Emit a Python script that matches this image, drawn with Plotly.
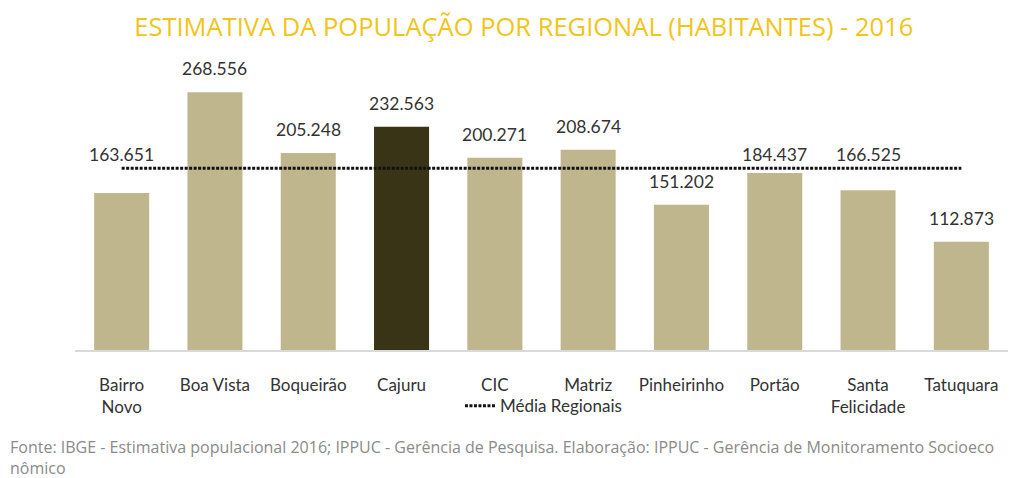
import plotly.graph_objects as go

categories = ["Bairro<br>Novo", "Boa Vista", "Boqueirão", "Cajuru", "CIC", "Matriz",
              "Pinheirinho", "Portão", "Santa<br>Felicidade", "Tatuquara"]
values = [163651, 268556, 205248, 232563, 200271, 208674, 151202, 184437, 166525, 112873]
labels = ["163.651", "268.556", "205.248", "232.563", "200.271", "208.674",
          "151.202", "184.437", "166.525", "112.873"]
highlight = "Cajuru"

mean_val = sum(values) / len(values)

TAN = "#c0b68e"
DARK = "#3a3416"
colors = [DARK if c == highlight else TAN for c in categories]

fig = go.Figure()
fig.add_trace(go.Bar(
    x=categories, y=values, marker=dict(color=colors, line=dict(width=0)),
    width=0.59, showlegend=False, hoverinfo="skip"))
fig.add_trace(go.Scatter(
    x=categories, y=[mean_val] * len(categories), mode="lines",
    line=dict(color="#111111", width=3, dash="3px,1.5px"),
    name="Média Regionais", showlegend=True))

annotations = []
for c, v, t in zip(categories, values, labels):
    if v < mean_val and mean_val - v < 30000:
        y, ys = mean_val, 1
    else:
        y, ys = v, 11
    annotations.append(dict(x=c, y=y, text=t, showarrow=False, yanchor="bottom",
                            yshift=ys, font=dict(family="Lato, Open Sans", size=17.5, color="#333333")))

annotations.append(dict(
    xref="paper", yref="paper", x=-0.0718, y=-0.292, xanchor="left", yanchor="top", align="left",
    showarrow=False,
    text=("Fonte: IBGE - Estimativa populacional 2016; IPPUC - Gerência de Pesquisa. "
          "Elaboração: IPPUC - Gerência de Monitoramento Socioeco<br>nômico"),
    font=dict(family="Open Sans", size=16, color="#8a8a8a")))

fig.update_layout(
    width=1021, height=470,
    paper_bgcolor="white", plot_bgcolor="white",
    margin=dict(l=67, r=21, t=54, b=128),
    title=dict(text="ESTIMATIVA DA POPULAÇÃO POR REGIONAL (HABITANTES) - 2016",
               x=0.481, xref="paper", xanchor="center", y=0.9596, yanchor="middle",
               font=dict(family="Open Sans", size=25.5, color="#f2c419")),
    bargap=0.41,
    xaxis=dict(showline=True, linecolor="#d9d9d9", linewidth=1.5, ticks="outside",
               ticklen=19, tickcolor="rgba(0,0,0,0)",
               tickfont=dict(family="Lato, Open Sans", size=17, color="#333333"),
               fixedrange=True, automargin=False),
    yaxis=dict(range=[0, 300000], visible=False, fixedrange=True),
    legend=dict(orientation="h", x=0.4126, xanchor="left", y=0.153, yanchor="middle",
                yref="container",
                font=dict(family="Lato, Open Sans", size=17, color="#333333"),
                bgcolor="rgba(0,0,0,0)"),
    annotations=annotations,
)

fig.write_html("out.html")
